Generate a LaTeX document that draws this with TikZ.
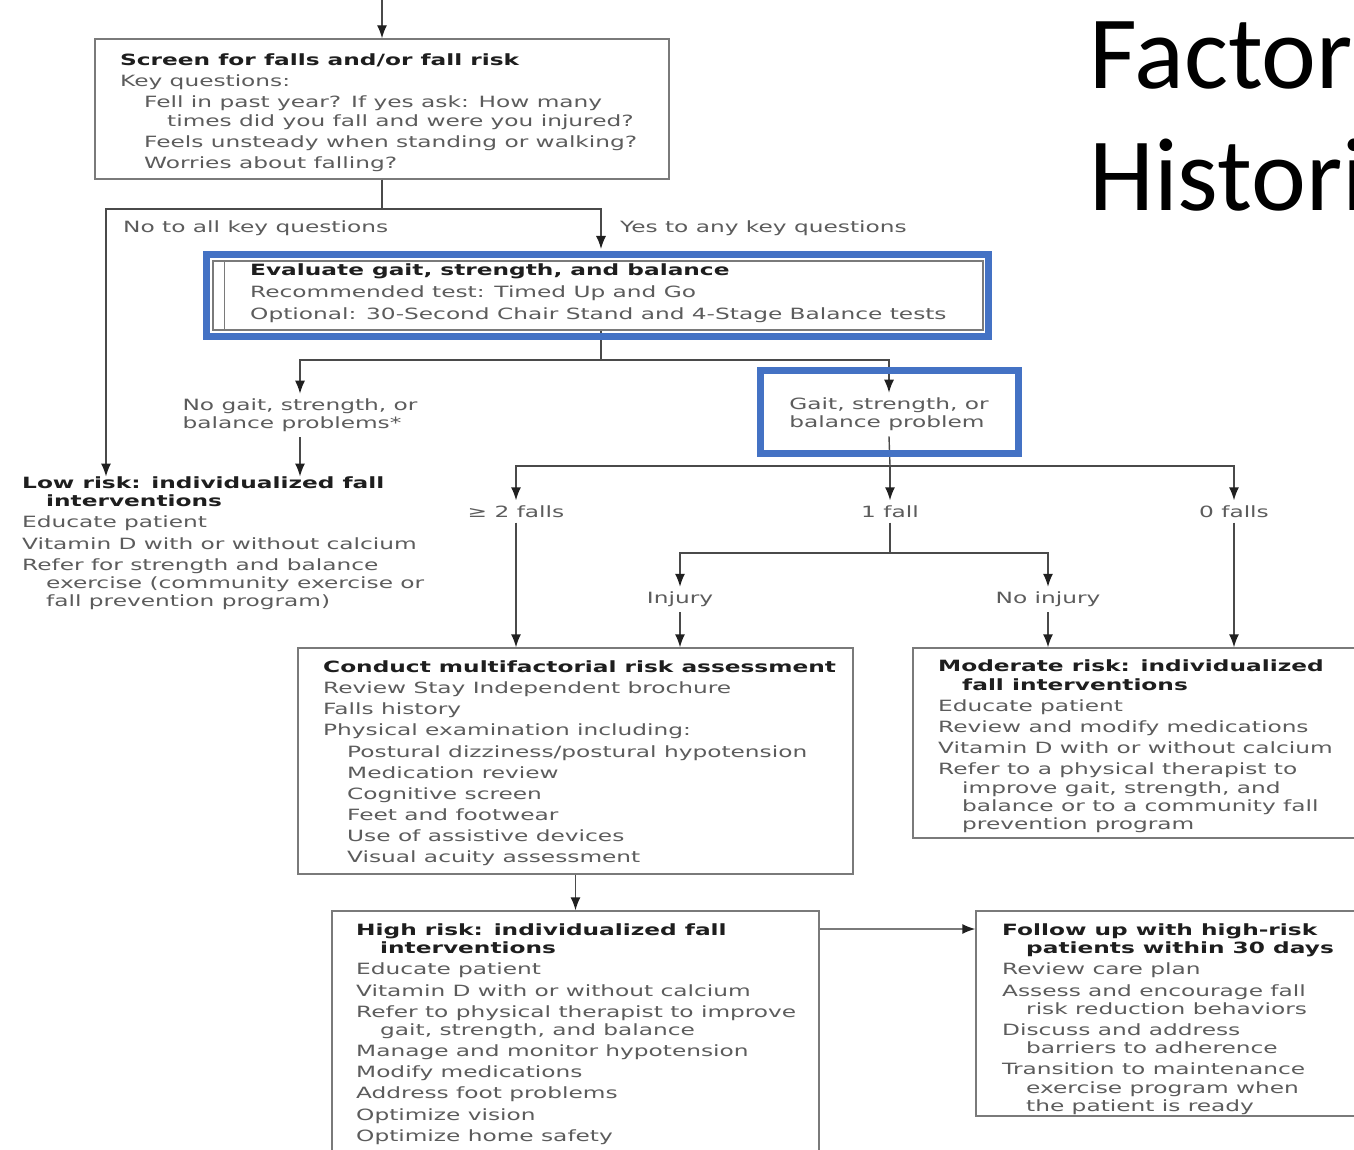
\documentclass[tikz,border=0pt]{standalone}
\usepackage{fontspec}
\setmainfont[FakeStretch=1.5]{DejaVu Sans}
\newfontfamily\titlefont{Carlito}
\usetikzlibrary{arrows.meta}
\definecolor{boxgray}{HTML}{7A7A7A}
\definecolor{linegray}{HTML}{4A4A4A}
\definecolor{txtgray}{HTML}{5C5C5C}
\definecolor{headblack}{HTML}{1E1E1E}
\definecolor{tipblack}{HTML}{202020}
\definecolor{hiblue}{HTML}{4472C4}
\tikzset{
  box/.style={draw=boxgray, line width=1.4pt, fill=white, inner sep=0pt},
  blue/.style={draw=hiblue, line width=7pt, inner sep=0pt},
  txt/.style={anchor=north west, inner sep=0pt, align=left, text=txtgray,
    font=\fontsize{15.5}{21.15}\selectfont},
  lbl/.style={inner sep=5pt, align=left, text=txtgray,
    font=\fontsize{15.5}{18.2}\selectfont},
  line/.style={draw=linegray, line width=1.4pt},
  arr/.style={line, -{Latex[length=13pt,width=10pt,color=tipblack]}},
}
\newcommand{\hd}[1]{\textcolor{headblack}{\textbf{#1}}}
\newcommand{\ind}{\hspace*{24pt}}
\newcommand{\indd}{\hspace*{47pt}}
\begin{document}
\begin{tikzpicture}[x=1pt,y=-1pt]
\useasboundingbox (0,0) rectangle (1354,1150);
\begin{scope}
\clip (0,0) rectangle (1354,1150);
\fill[white] (0,0) rectangle (1354,1150);

% boxes
\node[box, minimum width=574pt, minimum height=140pt] (screen) at (382,109) {};
\node[box, minimum width=770pt, minimum height=69pt] (evalbox) at (598,295.5) {};
\node[box, minimum width=555pt, minimum height=226pt] (conduct) at (575.5,761) {};
\node[box, minimum width=452pt, minimum height=190pt] (moderate) at (1139,743) {};
\node[box, minimum width=487pt, minimum height=249pt] (highrisk) at (575.5,1035.5) {};
\node[box, minimum width=389pt, minimum height=205pt] (followup) at (1170.5,1013.5) {};
\draw[draw=boxgray, line width=1.2pt] (evalbox.north west) ++(12,0) -- ++(0,69);

% texts
\node[txt] (screentxt) at (120,53.5) {\hd{Screen for falls and/or fall risk}\\
Key questions:\\
\ind Fell in past year? If yes ask: How many\\[-2.9pt]
\indd times did you fall and were you injured?\\
\ind Feels unsteady when standing or walking?\\
\ind Worries about falling?};

\node[txt] (evaltxt) at (250,263.5) {\hd{Evaluate gait, strength, and balance}\\[0.8pt]
Recommended test: Timed Up and Go\\[0.8pt]
Optional: 30-Second Chair Stand and 4-Stage Balance tests};

\node[txt] (lowrisk) at (22,476.5) {\hd{Low risk: individualized fall}\\[-2.9pt]
\ind\hd{interventions}\\
Educate patient\\
Vitamin D with or without calcium\\
Refer for strength and balance\\[-2.9pt]
\ind exercise (community exercise or\\[-2.9pt]
\ind fall prevention program)};

\node[txt] (conducttxt) at (323,660.5) {\hd{Conduct multifactorial risk assessment}\\
Review Stay Independent brochure\\
Falls history\\
Physical examination including:\\
\ind Postural dizziness/postural hypotension\\
\ind Medication review\\
\ind Cognitive screen\\
\ind Feet and footwear\\
\ind Use of assistive devices\\
\ind Visual acuity assessment};

\node[txt] (moderatetxt) at (938,660) {\hd{Moderate risk: individualized}\\[-2.9pt]
\ind\hd{fall interventions}\\
Educate patient\\
Review and modify medications\\
Vitamin D with or without calcium\\
Refer to a physical therapist to\\[-2.9pt]
\ind improve gait, strength, and\\[-2.9pt]
\ind balance or to a community fall\\[-2.9pt]
\ind prevention program};

\node[txt] (hightxt) at (356,923.5) {\hd{High risk: individualized fall}\\[-2.9pt]
\ind\hd{interventions}\\
Educate patient\\
Vitamin D with or without calcium\\
Refer to physical therapist to improve\\[-2.9pt]
\ind gait, strength, and balance\\
Manage and monitor hypotension\\
Modify medications\\
Address foot problems\\
Optimize vision\\
Optimize home safety};

\node[txt] (followtxt) at (1002,923.5) {\hd{Follow up with high-risk}\\[-2.9pt]
\ind\hd{patients within 30 days}\\
Review care plan\\
Assess and encourage fall\\[-2.9pt]
\ind risk reduction behaviors\\
Discuss and address\\[-2.9pt]
\ind barriers to adherence\\
Transition to maintenance\\[-2.9pt]
\ind exercise program when\\[-2.9pt]
\ind the patient is ready};

% labels
\node[lbl, anchor=west, inner sep=0pt] (nolbl) at (123,228) {No to all key questions};
\node[lbl, anchor=west, inner sep=0pt] (yeslbl) at (620,228) {Yes to any key questions};
\node[lbl] (nogait) at (300,415.5) {No gait, strength, or\\balance problems*};
\node[lbl] (gait) at (889,414.5) {Gait, strength, or\\balance problem};
\node[lbl] (twofalls) at (516,511.5) {≥ 2 falls};
\node[lbl] (onefall) at (890,511.5) {1 fall};
\node[lbl] (zerofalls) at (1234,511.5) {0 falls};
\node[lbl] (injury) at (680,599.5) {Injury};
\node[lbl] (noinjury) at (1048,599.5) {No injury};

% title
\node[anchor=base west, inner sep=0pt, font=\titlefont\fontsize{104}{125}\selectfont] (title1) at (1089,89) {Factors};
\node[anchor=base west, inner sep=0pt, font=\titlefont\fontsize{104}{125}\selectfont] (title2) at (1089,211) {Historical};

% connectors
\coordinate (topin) at (382,0);
\coordinate (nojoin) at (106,209);
\coordinate (yesjoin) at (601,209);
\coordinate (yesend) at (601,249);
\coordinate (gsplit) at (601,360);
\coordinate (fsplit) at (890,466);
\coordinate (isplit) at (890,553);
\coordinate (fuy) at (0,929);

\draw[arr] (topin) -- (screen.north);
\draw[arr] (screen.south) |- (nojoin) -- (nojoin |- lowrisk.north);
\draw[arr] (screen.south) |- (yesjoin) -- (yesend);
\draw[arr] (evalbox.south -| gsplit) -- (gsplit) -| (nogait.north);
\draw[arr] (nogait.south) -- (nogait.south |- lowrisk.north);
\draw[arr] (gsplit) -| (gait.north);
\draw[line] (gait.south) -- (fsplit);
\draw[arr] (fsplit) -| (twofalls.north);
\draw[arr] (fsplit) -- (onefall.north);
\draw[arr] (fsplit) -| (zerofalls.north);
\draw[arr] (twofalls.south) -- (twofalls.south |- conduct.north);
\draw[line] (onefall.south) -- (isplit);
\draw[arr] (isplit) -| (injury.north);
\draw[arr] (isplit) -| (noinjury.north);
\draw[arr] (injury.south) -- (injury.south |- conduct.north);
\draw[arr] (noinjury.south) -- (noinjury.south |- moderate.north);
\draw[arr] (zerofalls.south) -- (zerofalls.south |- moderate.north);
\draw[arr] (conduct.south) -- (highrisk.north);
\draw[arr, draw=boxgray] (highrisk.east |- fuy) -- (followup.west |- fuy);

% highlight frames
\node[blue, minimum width=782pt, minimum height=82pt] (evalblue) at (597.5,295.5) {};
\node[blue, minimum width=258pt, minimum height=83pt] (gaitblue) at (889.5,412) {};
\end{scope}
\end{tikzpicture}
\end{document}
